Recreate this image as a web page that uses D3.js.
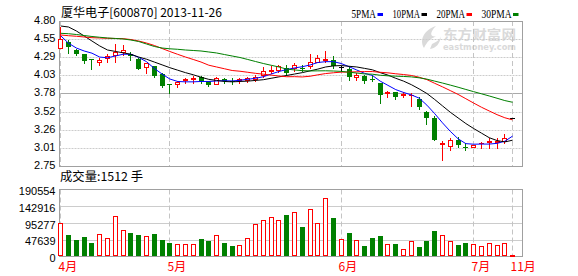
<!DOCTYPE html>
<html>
<head>
<meta charset="utf-8">
<script src="https://cdn.jsdelivr.net/npm/d3@7"></script>
<style>
body { margin: 0; background: #fff; }
svg { display: block; }
.axis text { font-family: "Liberation Sans", "DejaVu Sans", sans-serif; font-size: 11px; fill: #000; }
</style>
</head>
<body>
<svg id="chart"></svg>
<script>
// daily k-line data, 2013-04 .. 2013-07 plus 2013-11-26
const open  = [4.41, 4.51, 4.39, 4.335, 4.265, 4.21, 4.26, 4.30, 4.35, 4.34,
               4.26, 4.13, 4.16, 4.05, 3.91, 3.89, 3.95, 3.96, 4.01, 3.95,
               3.90, 3.98, 3.96, 3.95, 3.955, 3.96, 4.02, 4.08, 4.10, 4.14,
               4.12, 4.14, 4.15, 4.21, 4.24, 4.25, 4.15, 4.12, 4.00, 4.02,
               3.99, 3.93, 3.77, 3.79, 3.74, 3.75, 3.70, 3.52, 3.43, 3.05,
               3.02, 3.12, 3.02, 3.00, 3.07, 3.07, 3.07, 3.09, 3.43];
const close = [4.545, 4.43, 4.34, 4.23, 4.255, 4.25, 4.31, 4.36, 4.39, 4.30,
               4.12, 4.20, 4.02, 3.88, 3.90, 3.94, 3.98, 3.99, 3.95, 3.90,
               3.99, 3.95, 3.95, 3.98, 4.00, 4.01, 4.09, 4.11, 4.16, 4.07,
               4.18, 4.13, 4.225, 4.27, 4.26, 4.17, 4.15, 4.01, 4.04, 3.95,
               3.98, 3.75, 3.79, 3.73, 3.77, 3.76, 3.59, 3.43, 3.12, 3.07,
               3.12, 3.05, 3.01, 3.05, 3.08, 3.10, 3.11, 3.14, 3.43];
const high  = [4.72, 4.53, 4.41, 4.34, 4.265, 4.27, 4.34, 4.48, 4.46, 4.36,
               4.28, 4.20, 4.17, 4.07, 3.91, 3.95, 4.00, 4.02, 4.02, 3.95,
               4.01, 3.99, 3.99, 3.99, 4.01, 4.03, 4.15, 4.17, 4.18, 4.18,
               4.20, 4.18, 4.34, 4.32, 4.37, 4.30, 4.17, 4.15, 4.06, 4.03,
               4.04, 3.93, 3.81, 3.80, 3.79, 3.78, 3.72, 3.53, 3.45, 3.10,
               3.15, 3.16, 3.07, 3.05, 3.09, 3.14, 3.14, 3.20, 3.43];
const low   = [4.40, 4.35, 4.32, 4.21, 4.12, 4.18, 4.22, 4.22, 4.32, 4.25,
               4.12, 4.07, 4.01, 3.86, 3.78, 3.86, 3.92, 3.92, 3.92, 3.88,
               3.89, 3.93, 3.91, 3.93, 3.94, 3.95, 4.01, 4.06, 4.08, 4.04,
               4.09, 4.09, 4.14, 4.20, 4.22, 4.13, 4.10, 3.96, 3.96, 3.93,
               3.95, 3.64, 3.72, 3.70, 3.73, 3.60, 3.56, 3.34, 3.12, 2.83,
               2.98, 3.02, 2.97, 3.00, 3.01, 3.00, 3.01, 3.08, 3.43];
const volume = [94400, 61300, 47200, 55700, 38700, 63300, 52000, 114200, 74600, 67000,
                61300, 57700, 64200, 47200, 38700, 35000, 35000, 35000, 50000, 44400,
                60500, 38700, 30300, 32200, 52000, 91600, 102900, 111400, 102900, 117900,
                125500, 84000, 134000, 94400, 165100, 109400, 49200, 67000, 46400, 30300,
                52900, 58500, 35000, 35900, 20900, 43500, 27400, 44400, 72700, 60500,
                43500, 33100, 38700, 35000, 29400, 37900, 32200, 37900, 1512];

const ma5  = [4.59, 4.485, 4.418, 4.376, 4.345, 4.29, 4.28, 4.305, 4.33, 4.33,
              4.285, 4.225, 4.13, 4.05, 3.98, 3.945, 3.94, 3.94, 3.945, 3.945,
              3.952, 3.956, 3.952, 3.962, 3.976, 3.99, 4.012, 4.05, 4.086, 4.114,
              4.136, 4.154, 4.178, 4.213, 4.225, 4.225, 4.199, 4.154, 4.107, 4.06,
              4.03, 3.95, 3.89, 3.83, 3.79, 3.755, 3.71, 3.61, 3.49, 3.36,
              3.24, 3.135, 3.066, 3.058, 3.06, 3.06, 3.07, 3.10, 3.173];
const ma10 = [4.729, 4.715, 4.659, 4.588, 4.517, 4.447, 4.39, 4.37, 4.35, 4.33,
              4.29, 4.26, 4.22, 4.18, 4.14, 4.105, 4.07, 4.04, 4.005, 3.975,
              3.96, 3.945, 3.94, 3.945, 3.95, 3.96, 3.97, 3.99, 4.01, 4.03,
              4.05, 4.07, 4.095, 4.12, 4.15, 4.165, 4.17, 4.16, 4.15, 4.13,
              4.11, 4.07, 4.035, 3.99, 3.95, 3.90, 3.84, 3.775, 3.69, 3.60,
              3.51, 3.43, 3.35, 3.28, 3.215, 3.15, 3.11, 3.09, 3.115];
const ma20 = [4.602, 4.592, 4.584, 4.574, 4.564, 4.56, 4.555, 4.553, 4.55, 4.538,
              4.517, 4.489, 4.454, 4.411, 4.369, 4.329, 4.291, 4.256, 4.22, 4.175,
              4.15, 4.125, 4.10, 4.09, 4.075, 4.06, 4.048, 4.035, 4.022, 4.012,
              4.013, 4.009, 4.019, 4.039, 4.057, 4.068, 4.077, 4.078, 4.082, 4.085,
              4.085, 4.075, 4.067, 4.054, 4.043, 4.03, 4.005, 3.971, 3.919, 3.869,
              3.816, 3.762, 3.701, 3.64, 3.581, 3.528, 3.476, 3.432, 3.402];
const ma30 = [4.626, 4.62, 4.609, 4.595, 4.581, 4.57, 4.56, 4.553, 4.546, 4.531,
              4.51, 4.475, 4.44, 4.418, 4.407, 4.40, 4.39, 4.383, 4.376, 4.362,
              4.348, 4.326, 4.305, 4.284, 4.256, 4.227, 4.199, 4.174, 4.15, 4.12,
              4.108, 4.098, 4.094, 4.095, 4.096, 4.093, 4.088, 4.076, 4.064, 4.052,
              4.048, 4.033, 4.025, 4.02, 4.016, 4.01, 3.997, 3.978, 3.95, 3.923,
              3.894, 3.864, 3.832, 3.801, 3.771, 3.74, 3.708, 3.675, 3.651];

const priceTicks = [4.80, 4.55, 4.29, 4.03, 3.78, 3.52, 3.26, 3.01, 2.75];
const volumeTicks = [190554, 142916, 95277, 47639, 0];
const monthIndex = [0, 14, 36, 53, 58];
const monthLabels = ['4月', '5月', '6月', '7月', '11月'];
const maNames = ['5PMA', '10PMA', '20PMA', '30PMA'];
const maColors = ['#0000ff', '#000000', '#ff0000', '#008000'];

const width = 578;
const height = 276;
const plot = { left: 59.5, right: 522.5 };
const pricePanel = { top: 21, bottom: 166 };
const volPanel = { top: 189.5, bottom: 256.5 };
const UP = '#ff0000', DOWN = '#008000', FLAT = '#000000';

const svg = d3.select('#chart')
    .attr('width', width)
    .attr('height', height);

const days = close.map((d, i) => i);
const xScale = d3.scaleBand().domain(days).range([56.9, 516.5]).padding(0);
const cx = i => xScale(i) + xScale.bandwidth() / 2;
const yPrice = d3.scaleLinear().domain([2.75, 4.80]).range([pricePanel.bottom, pricePanel.top]);
const yVol = d3.scaleLinear().domain([0, 190554]).range([volPanel.bottom, volPanel.top]);

// watermark
const wm = svg.append('g').attr('fill', '#dadada');
wm.append('path')
    .attr('d', 'M436,26 C424,30 419,40 424,48 C427,42 430,38 438,36 C431,38 428,34 436,26 Z M432,44 C436,42 440,40 441,36 C440,44 436,48 430,49 Z');
wm.append('text')
    .attr('x', 443).attr('y', 38.5)
    .attr('textLength', 73).attr('lengthAdjust', 'spacingAndGlyphs')
    .style('font-family', '"Noto Sans CJK SC", sans-serif')
    .style('font-size', '13px').style('font-weight', 'bold')
    .text('东方财富网');
wm.append('text')
    .attr('x', 443).attr('y', 49.5)
    .attr('textLength', 73).attr('lengthAdjust', 'spacingAndGlyphs')
    .style('font-family', '"DejaVu Sans", sans-serif')
    .style('font-size', '9px').style('font-weight', 'bold')
    .text('eastmoney.com');

// price grid
priceTicks.slice(1, -1).forEach((t, k) => {
    const y = Math.round(yPrice(t)) + 0.5;
    const mid = k === 3;
    svg.append('line')
        .attr('x1', plot.left).attr('x2', plot.right)
        .attr('y1', y).attr('y2', y)
        .attr('stroke', mid ? '#aaaaaa' : '#cccccc')
        .attr('stroke-dasharray', mid ? null : '2,1');
});
volumeTicks.slice(1, -1).forEach(t => {
    const y = Math.round(yVol(t)) + 0.5;
    svg.append('line')
        .attr('x1', plot.left).attr('x2', plot.right)
        .attr('y1', y).attr('y2', y)
        .attr('stroke', '#cccccc');
});

// month separators
monthIndex.forEach(i => {
    const x = Math.floor(cx(i)) + 0.5;
    [[pricePanel.top, pricePanel.bottom], [volPanel.top, volPanel.bottom]].forEach(([t, b]) => {
        svg.append('line')
            .attr('x1', x).attr('x2', x)
            .attr('y1', t).attr('y2', b)
            .attr('stroke', '#c4c4c4')
            .attr('stroke-dasharray', '5,3');
    });
});

// panel borders
svg.append('rect')
    .attr('x', plot.left).attr('y', pricePanel.top + 0.5)
    .attr('width', plot.right - plot.left).attr('height', pricePanel.bottom - pricePanel.top)
    .attr('fill', 'none').attr('stroke', '#a0a0a0');
svg.append('rect')
    .attr('x', plot.left).attr('y', volPanel.top)
    .attr('width', plot.right - plot.left).attr('height', volPanel.bottom - volPanel.top)
    .attr('fill', 'none').attr('stroke', '#a0a0a0');

// candles
const candles = svg.append('g');
days.forEach(i => {
    const o = open[i], c = close[i];
    const color = c > o ? UP : (c < o ? DOWN : FLAT);
    const L = Math.round(cx(i) - 2.5);
    const wx = L + 2.5;
    const yO = yPrice(o), yC = yPrice(c);
    const yTop = Math.round(Math.min(yO, yC));
    const yBot = Math.round(Math.max(yO, yC));
    const yH = Math.round(yPrice(high[i]));
    const yL = Math.round(yPrice(low[i]));
    const g = candles.append('g').attr('stroke', color);

    if (yBot - yTop < 2) {
        g.append('line').attr('x1', wx).attr('x2', wx).attr('y1', yH).attr('y2', yL + 1);
        const yy = Math.round((yO + yC) / 2) + 0.5;
        g.append('line').attr('x1', L).attr('x2', L + 5).attr('y1', yy).attr('y2', yy);
    } else if (color === UP) {
        if (yH < yTop) g.append('line').attr('x1', wx).attr('x2', wx).attr('y1', yH).attr('y2', yTop);
        if (yL > yBot) g.append('line').attr('x1', wx).attr('x2', wx).attr('y1', yBot).attr('y2', yL + 1);
        g.append('rect')
            .attr('x', L + 0.5).attr('y', yTop + 0.5)
            .attr('width', 4).attr('height', yBot - yTop - 1)
            .attr('fill', '#fff');
    } else {
        g.append('line').attr('x1', wx).attr('x2', wx).attr('y1', yH).attr('y2', yL + 1);
        g.append('rect')
            .attr('x', L).attr('y', yTop)
            .attr('width', 5).attr('height', yBot - yTop)
            .attr('fill', color).attr('stroke', 'none');
    }
});

// volume bars
const vols = svg.append('g');
days.forEach(i => {
    const down = close[i] < open[i];
    const L = Math.round(cx(i) - 2.5);
    const yT = Math.round(yVol(volume[i]));
    const yB = Math.round(volPanel.bottom - 0.5);
    if (down) {
        vols.append('rect')
            .attr('x', L).attr('y', yT)
            .attr('width', 5).attr('height', yB - yT)
            .attr('fill', DOWN);
    } else {
        vols.append('rect')
            .attr('x', L + 0.5).attr('y', Math.min(yT, yB - 1) + 0.5)
            .attr('width', 4).attr('height', Math.max(1, yB - yT - 1))
            .attr('fill', '#fff').attr('stroke', UP);
    }
});

// moving averages
const maLine = d3.line().x((d, i) => cx(i)).y(d => yPrice(d));
[ma5, ma10, ma20, ma30].forEach((series, k) => {
    svg.append('path')
        .datum(series)
        .attr('fill', 'none')
        .attr('stroke', maColors[k])
        .attr('stroke-width', 1)
        .attr('d', maLine);
});

// axes
const priceAxis = svg.append('g')
    .attr('class', 'axis')
    .attr('transform', `translate(${plot.left},-1)`)
    .call(d3.axisLeft(yPrice).tickValues(priceTicks).tickFormat(d3.format('.2f')).tickSize(0).tickPadding(4));
priceAxis.select('.domain').remove();

const volAxis = svg.append('g')
    .attr('class', 'axis')
    .attr('transform', `translate(${plot.left},1.5)`)
    .call(d3.axisLeft(yVol).tickValues(volumeTicks).tickFormat(d3.format('d')).tickSize(0).tickPadding(4));
volAxis.select('.domain').remove();

// month labels
svg.append('g').selectAll('text')
    .data(monthIndex)
    .join('text')
    .attr('x', i => Math.round(cx(i)) - 2.5)
    .attr('y', 271)
    .attr('fill', '#ff0000')
    .style('font-family', '"Noto Sans CJK SC", sans-serif')
    .style('font-size', '12px')
    .text((i, k) => monthLabels[k]);

// title and volume caption
svg.append('text')
    .attr('x', 61).attr('y', 17)
    .attr('textLength', 161).attr('lengthAdjust', 'spacingAndGlyphs')
    .style('font-family', '"Noto Sans CJK SC", sans-serif')
    .style('font-size', '12px')
    .text('厦华电子[600870] 2013-11-26');
svg.append('text')
    .attr('x', 60).attr('y', 181)
    .attr('textLength', 83).attr('lengthAdjust', 'spacingAndGlyphs')
    .style('font-family', '"Noto Sans CJK SC", sans-serif')
    .style('font-size', '12px')
    .text('成交量:' + volume[volume.length - 1] + ' 手');

// legend
const legendX = [351.5, 392.5, 436.5, 481.5];
const legendW = [24.5, 27.5, 28.5, 30];
const legend = svg.append('g');
maNames.forEach((name, k) => {
    legend.append('text')
        .attr('x', legendX[k]).attr('y', 18)
        .attr('textLength', legendW[k]).attr('lengthAdjust', 'spacingAndGlyphs')
        .style('font-family', '"Liberation Serif", serif')
        .style('font-size', '12.5px')
        .text(name);
    legend.append('rect')
        .attr('x', legendX[k] + legendW[k] + 1.5).attr('y', 13)
        .attr('width', 5.5).attr('height', 3)
        .attr('fill', maColors[k]);
});
</script>
</body>
</html>
